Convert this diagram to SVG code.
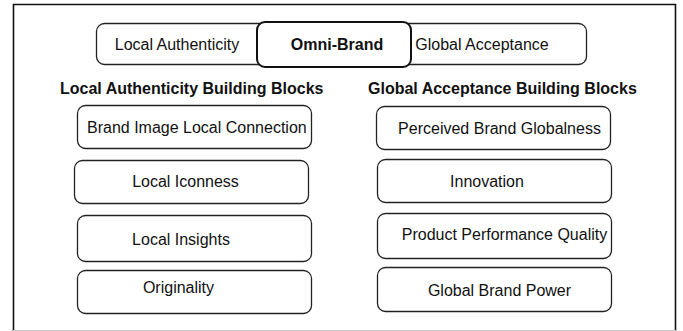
<svg xmlns="http://www.w3.org/2000/svg" width="683" height="331" viewBox="0 0 683 331">
  <style>
    text { font-family: "Liberation Sans", Arial, sans-serif; font-size: 16px; fill: #111; }
    .bold { font-weight: bold; }
    .box { fill: #fff; stroke: #222; stroke-width: 1.3; }
    .core { fill: #fff; stroke: #111; stroke-width: 2; }
    .mid { text-anchor: middle; }
  </style>
  <rect x="0" y="0" width="683" height="331" fill="#fff"/>
  <!-- outer frame -->
  <path d="M13.5 331 V4.5 H675.5 V331" fill="none" stroke="#111" stroke-width="1.6"/>
  <line x1="13" y1="330.5" x2="676" y2="330.5" stroke="#ccc" stroke-width="1"/>

  <!-- top row -->
  <g id="local-authenticity">
    <rect class="box" x="96.5" y="23.5" width="180" height="41" rx="8"/>
    <text x="177" y="50" class="mid">Local Authenticity</text>
  </g>
  <g id="global-acceptance">
    <rect class="box" x="395.5" y="23.5" width="191" height="41" rx="8"/>
    <text x="482" y="50" class="mid">Global Acceptance</text>
  </g>
  <g id="omni-brand">
    <rect class="core" x="257" y="22" width="154" height="45" rx="8"/>
    <text x="337" y="50" class="mid bold">Omni-Brand</text>
  </g>

  <!-- column headings -->
  <g id="heading-local">
    <text x="60" y="94" class="bold">Local Authenticity Building Blocks</text>
  </g>
  <g id="heading-global">
    <text x="368" y="94" class="bold">Global Acceptance Building Blocks</text>
  </g>

  <!-- local building blocks -->
  <g id="brand-image-local-connection">
    <rect class="box" x="77.5" y="105.5" width="234" height="43" rx="8"/>
    <text x="87" y="133">Brand Image Local Connection</text>
  </g>
  <g id="local-iconness">
    <rect class="box" x="74.5" y="160.5" width="234" height="43" rx="8"/>
    <text x="185.5" y="187" class="mid">Local Iconness</text>
  </g>
  <g id="local-insights">
    <rect class="box" x="77.5" y="215.5" width="234" height="46" rx="8"/>
    <text x="181" y="245" class="mid">Local Insights</text>
  </g>
  <g id="originality">
    <rect class="box" x="77.5" y="270.5" width="234" height="43" rx="8"/>
    <text x="178.5" y="293" class="mid">Originality</text>
  </g>

  <!-- global building blocks -->
  <g id="perceived-brand-globalness">
    <rect class="box" x="376.5" y="106.5" width="234" height="43" rx="8"/>
    <text x="499.5" y="134" class="mid">Perceived Brand Globalness</text>
  </g>
  <g id="innovation">
    <rect class="box" x="377.5" y="159.5" width="234" height="43" rx="8"/>
    <text x="487" y="187" class="mid">Innovation</text>
  </g>
  <g id="product-performance-quality">
    <rect class="box" x="377.5" y="213.5" width="234" height="45" rx="8"/>
    <text x="504.5" y="240" class="mid">Product Performance Quality</text>
  </g>
  <g id="global-brand-power">
    <rect class="box" x="377.5" y="267.5" width="234" height="44" rx="8"/>
    <text x="499.5" y="296" class="mid">Global Brand Power</text>
  </g>

  <g id="connectors"></g>
</svg>
